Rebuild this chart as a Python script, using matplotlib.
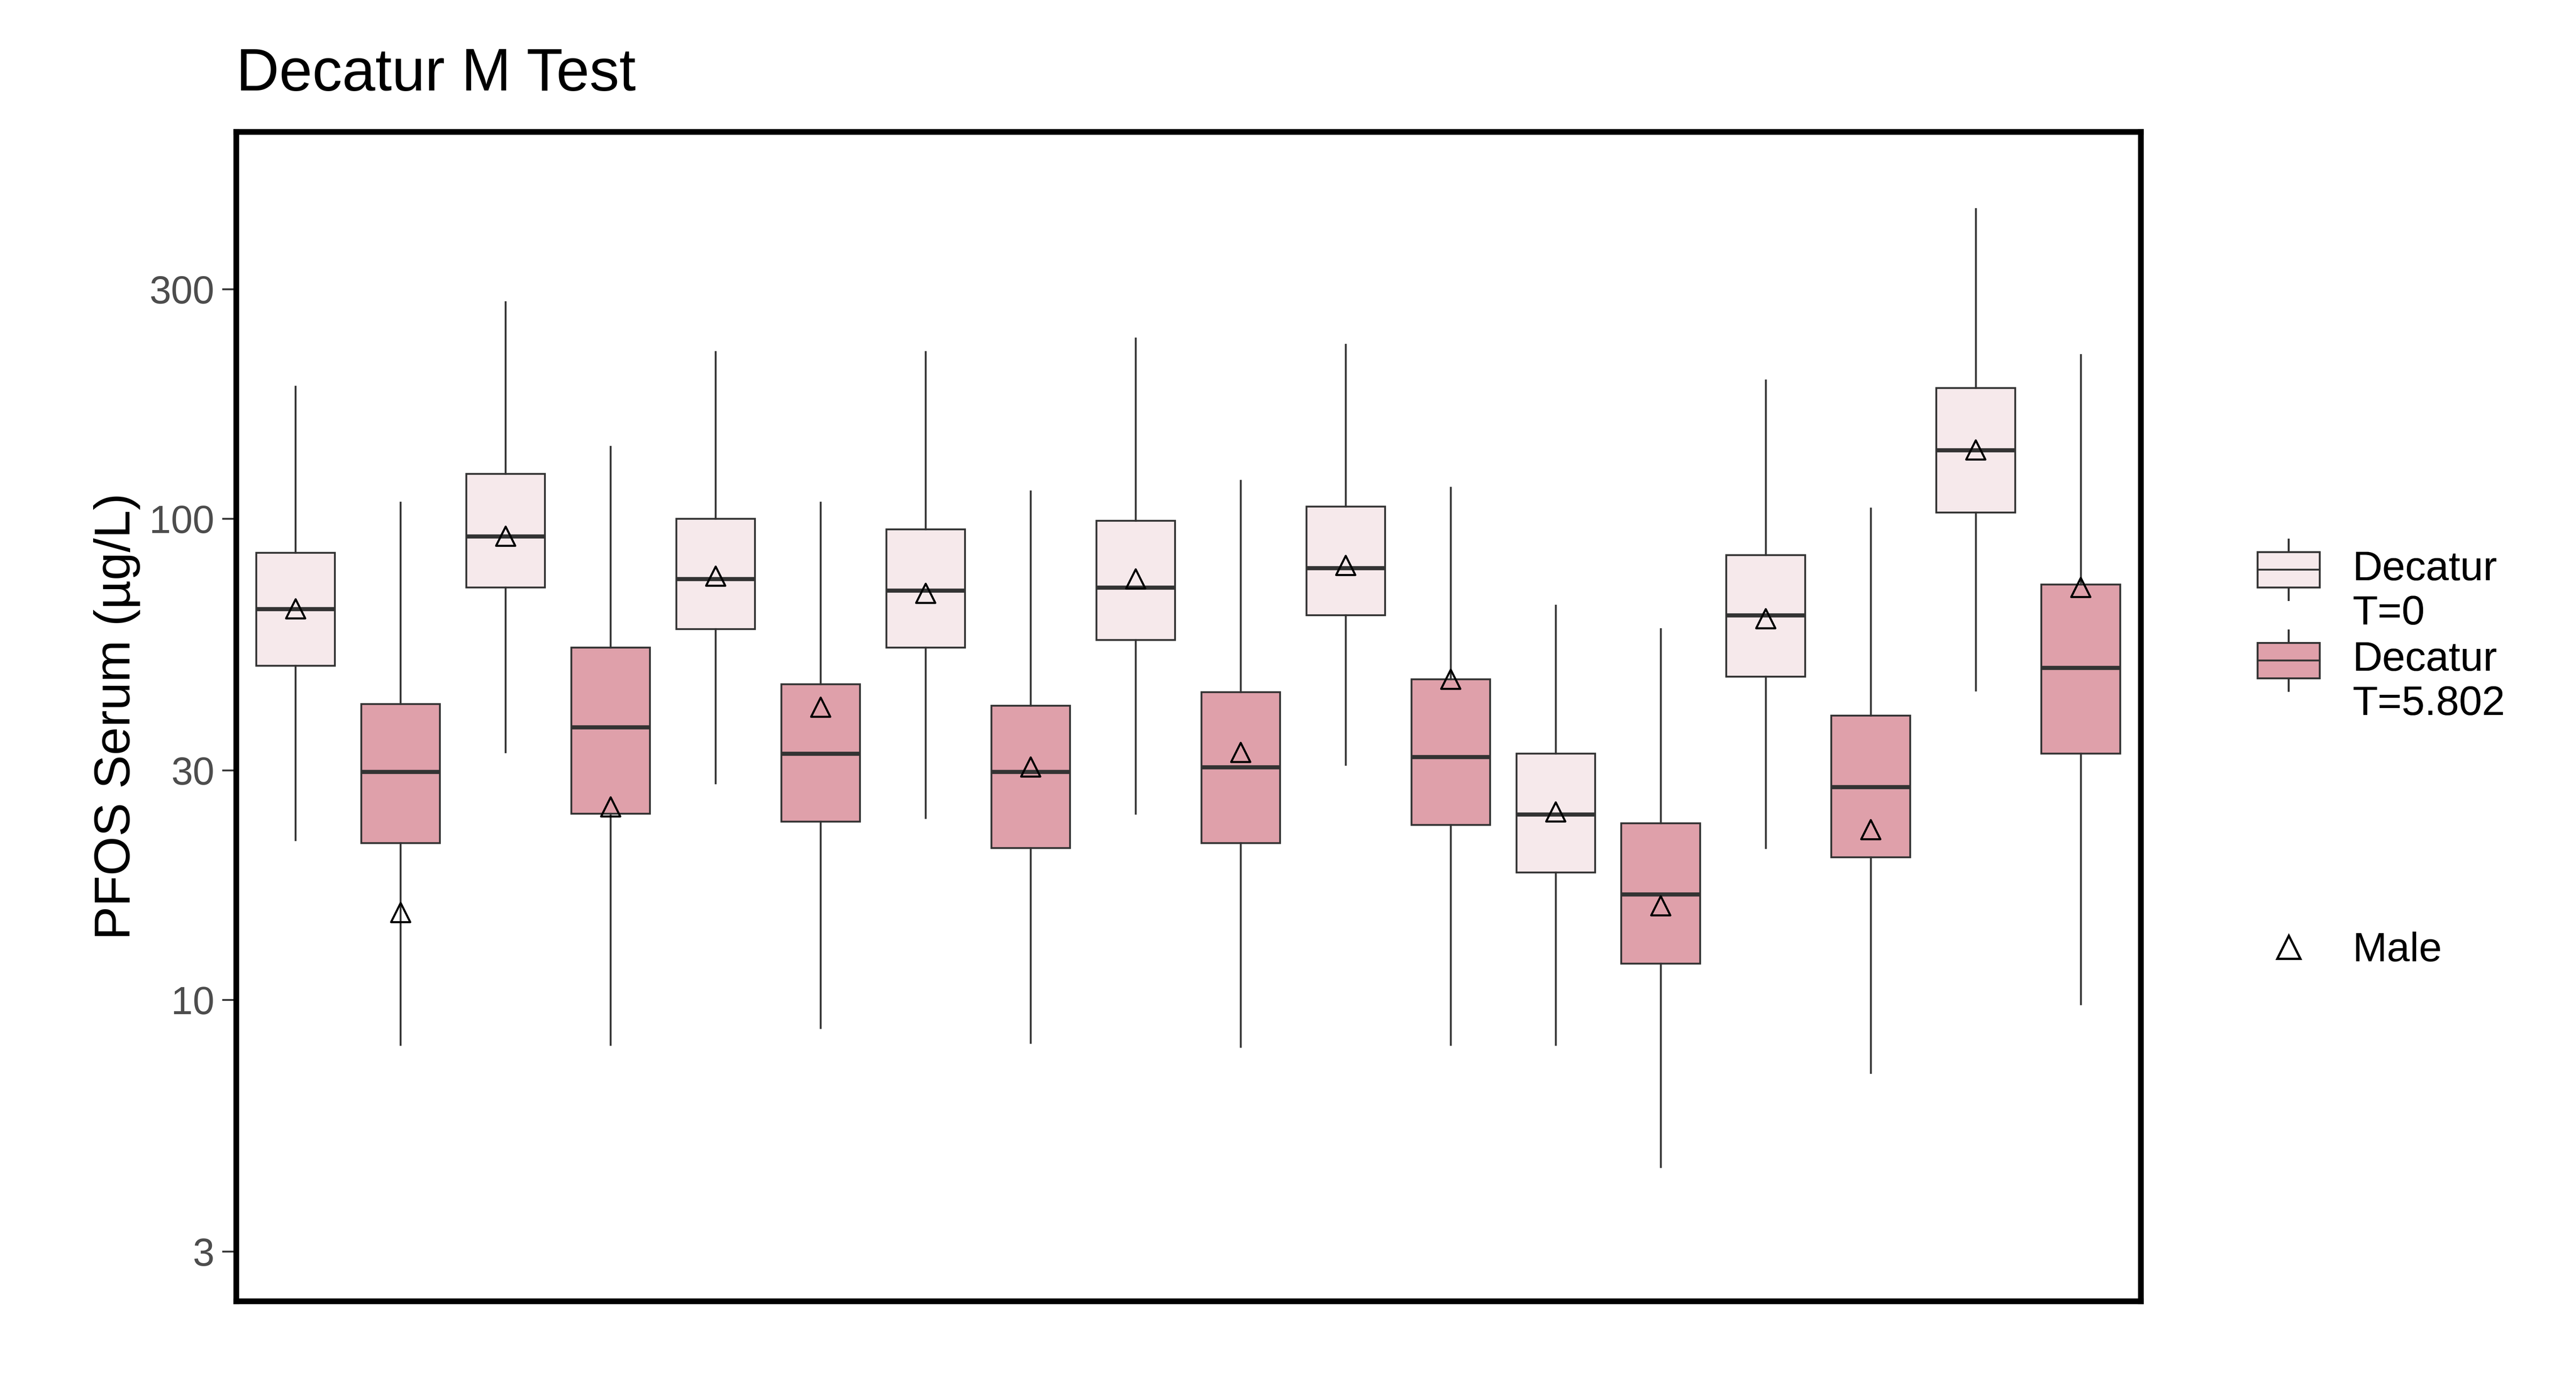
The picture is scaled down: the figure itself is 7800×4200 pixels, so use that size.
import matplotlib
matplotlib.use('Agg')
import matplotlib.pyplot as plt
from matplotlib.patches import Patch, Rectangle
from matplotlib.lines import Line2D
from matplotlib.legend_handler import HandlerBase

plt.rcParams['font.family'] = ['Liberation Sans', 'DejaVu Sans']

# box stats (ug/L), alternating T=0 / T=5.802
whislo = [21.5, 8.07, 32.7, 8.07, 28.2, 8.75, 23.9, 8.15, 24.4, 8.0, 30.8, 8.07, 8.07, 4.5, 20.7, 7.06, 44, 9.8]
q1     = [49.5, 21.2, 72, 24.4, 59, 23.5, 54, 20.7, 56, 21.2, 63, 23.1, 18.4, 11.9, 47, 19.8, 103, 32.5]
med    = [65, 29.8, 92, 36.9, 75, 32.5, 71, 29.8, 72, 30.5, 79, 32, 24.3, 16.6, 63, 27.7, 139, 49]
q3     = [85, 41.2, 124, 54, 100, 45.3, 95, 40.9, 99, 43.6, 106, 46.4, 32.5, 23.3, 84, 39, 187, 73]
whishi = [188, 108, 282, 141, 222, 108, 222, 114, 237, 120, 230, 116, 66, 59, 194, 105, 440, 219]
male   = [65, 15.2, 92, 25.2, 76, 40.6, 70, 30.5, 75, 32.7, 80, 46.4, 24.6, 15.7, 62, 22.6, 139, 72]
groups = ['T=0', 'T=5.802'] * 9

light = '#F6E9EB'
dark = '#DFA0AA'


class BoxHandler(HandlerBase):
    def create_artists(self, legend, orig, xd, yd, w, h, fontsize, trans):
        fc = orig.get_facecolor()
        rect = Rectangle((xd, yd + 0.15 * h), w, 0.7 * h, facecolor=fc, edgecolor='#333333', lw=0.8, transform=trans)
        wl = Line2D([xd + w / 2] * 2, [yd - 0.1 * h, yd + 1.1 * h], color='#333333', lw=0.8, transform=trans)
        ml = Line2D([xd, xd + w], [yd + h / 2] * 2, color='#333333', lw=0.8, transform=trans)
        return [wl, rect, ml]


stats = []
for i in range(len(med)):
    stats.append(dict(whislo=whislo[i], q1=q1[i], med=med[i], q3=q3[i], whishi=whishi[i], fliers=[]))

fig = plt.figure(figsize=(15.6, 8.4), dpi=500)
ax = fig.add_axes([0.0917, 0.062, 0.7393, 0.843])
pos = list(range(1, len(med) + 1))
bp = ax.bxp(stats, positions=pos, widths=0.75, patch_artist=True, showcaps=False,
            boxprops=dict(edgecolor='#333333', linewidth=0.8),
            medianprops=dict(color='#333333', linewidth=1.8),
            whiskerprops=dict(color='#333333', linewidth=0.8))
for b, g in zip(bp['boxes'], groups):
    b.set_facecolor(light if g == 'T=0' else dark)
ax.scatter(pos, male, marker='^', s=70, facecolors='none', edgecolors='black', linewidths=0.9, zorder=5)

ax.set_yscale('log')
ax.set_ylim(2.37, 637)
ax.set_xlim(0.434, 18.57)
ax.set_yticks([3, 10, 30, 100, 300])
ax.set_yticklabels(['3', '10', '30', '100', '300'])
ax.minorticks_off()
ax.set_xticks([])
ax.tick_params(axis='y', labelsize=17, labelcolor='#4d4d4d', length=6, color='#333333')
for s in ax.spines.values():
    s.set_linewidth(2.5)
ax.set_ylabel('PFOS Serum (µg/L)', fontsize=22)
ax.set_title('Decatur M Test', fontsize=26, loc='left', pad=18)

h1 = Patch(facecolor=light)
h2 = Patch(facecolor=dark)
leg1 = fig.legend([h1, h2], ['Decatur\nT=0', 'Decatur\nT=5.802'], loc='upper left',
                  bbox_to_anchor=(0.862, 0.63), frameon=False, fontsize=18,
                  handler_map={Patch: BoxHandler()}, handlelength=1.5, handleheight=1.5,
                  labelspacing=0.2, handletextpad=0.8)
fig.add_artist(leg1)
fig.legend([Line2D([], [], marker='^', color='none', markerfacecolor='none', markeredgecolor='black', markersize=10)],
           ['Male'], loc='upper left', bbox_to_anchor=(0.862, 0.355), frameon=False, fontsize=18,
           handlelength=1.5, handletextpad=0.8)

fig.savefig('out.png')
